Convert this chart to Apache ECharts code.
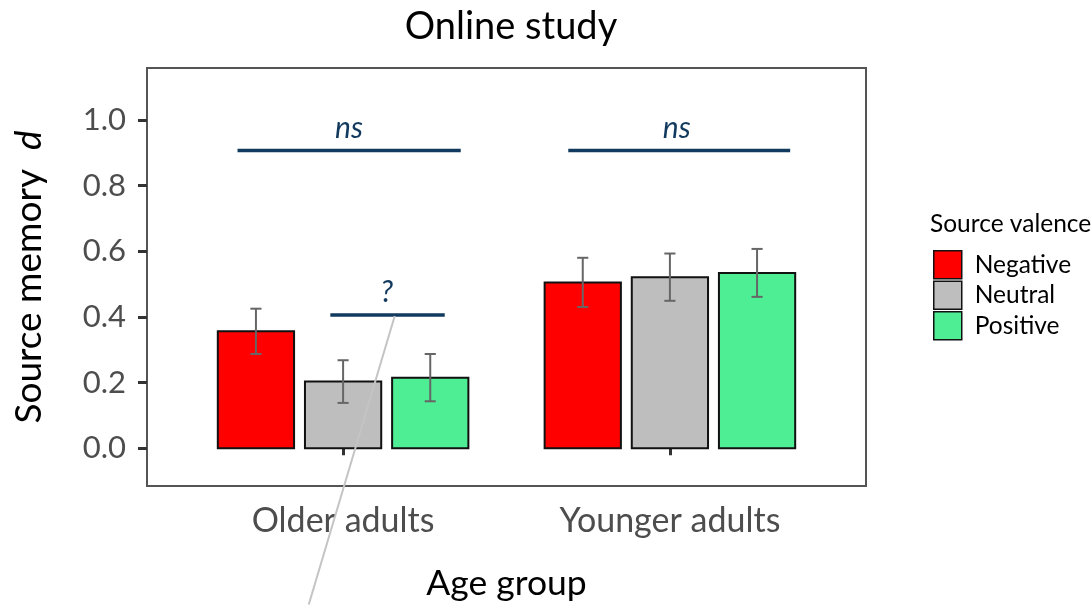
<!DOCTYPE html>
<html>
<head>
<meta charset="utf-8">
<title>Online study</title>
<script src="https://cdn.jsdelivr.net/npm/echarts@6/dist/echarts.min.js"></script>
<style>
  html, body { margin: 0; padding: 0; background: #ffffff; }
  #chart { width: 1092px; height: 605px; }
</style>
</head>
<body>
<div id="chart"></div>
<script>
// Age groups on the x axis (positions 1 and 2 on a continuous scale)
const ageGroups = ['Older adults', 'Younger adults'];
const groupPos = [1, 2];

// Source valence conditions
const valences = ['Negative', 'Neutral', 'Positive'];
const valenceColors = ['#FF0000', '#BEBEBE', '#4EEE94'];

// Mean source memory d per valence, one value per age group
const negativeMean = [0.356, 0.505];
const neutralMean  = [0.203, 0.521];
const positiveMean = [0.215, 0.534];

// Standard errors (half-length of the error bars)
const negativeSE = [0.069, 0.075];
const neutralSE  = [0.065, 0.072];
const positiveSE = [0.072, 0.073];

// y axis tick labels
const yTicks = [0, 0.2, 0.4, 0.6, 0.8, 1.0];

// Significance annotations: [x start, x end, y, label]
const sigBrackets = [
  [0.677, 1.360, 0.907, 'ns'],
  [1.689, 2.368, 0.907, 'ns'],
  [0.961, 1.311, 0.406, '?']
];
// Label anchor for each annotation: [x, y]
const sigLabels = [
  [1.018, 0.974],
  [2.021, 0.974],
  [1.134, 0.476]
];
// Stray grey pointer line: [x, y] start and end
const pointerLine = [[1.158, 0.403], [0.895, -0.476]];

const means = [negativeMean, neutralMean, positiveMean];
const ses = [negativeSE, neutralSE, positiveSE];

const dodge = 0.8 / 3;     // spacing between dodged bars (axis units)
const barW = 0.7 / 3;      // bar width (axis units)
const capW = 0.034;        // error bar cap width (axis units)

function barSeries(k) {
  return {
    name: valences[k],
    type: 'custom',
    itemStyle: { color: valenceColors[k], borderColor: '#111', borderWidth: 1.5 },
    data: groupPos.map((g, i) => [g + (k - 1) * dodge, means[k][i]]),
    encode: { x: 0, y: 1 },
    renderItem: function (params, api) {
      const x = api.value(0), v = api.value(1);
      const p0 = api.coord([x - barW / 2, 0]);
      const p1 = api.coord([x + barW / 2, v]);
      return {
        type: 'rect',
        shape: { x: p0[0], y: p1[1], width: p1[0] - p0[0], height: p0[1] - p1[1] },
        style: { fill: valenceColors[k], stroke: '#111', lineWidth: 2 }
      };
    },
    z: 2
  };
}

function errorSeries(k) {
  return {
    name: valences[k] + ' SE',
    type: 'custom',
    silent: true,
    data: groupPos.map((g, i) => [g + (k - 1) * dodge, means[k][i] - ses[k][i], means[k][i] + ses[k][i]]),
    encode: { x: 0, y: [1, 2] },
    renderItem: function (params, api) {
      const x = api.value(0), lo = api.value(1), hi = api.value(2);
      const top = api.coord([x, hi]), bot = api.coord([x, lo]);
      const l = api.coord([x - capW / 2, hi])[0], r = api.coord([x + capW / 2, hi])[0];
      const st = { stroke: '#666666', lineWidth: 2 };
      return {
        type: 'group',
        children: [
          { type: 'line', shape: { x1: top[0], y1: top[1], x2: bot[0], y2: bot[1] }, style: st },
          { type: 'line', shape: { x1: l, y1: top[1], x2: r, y2: top[1] }, style: st },
          { type: 'line', shape: { x1: l, y1: bot[1], x2: r, y2: bot[1] }, style: st }
        ]
      };
    },
    z: 3
  };
}

const chart = echarts.init(document.getElementById('chart'), null, { renderer: 'canvas' });

const option = {
  backgroundColor: '#ffffff',
  animation: false,
  textStyle: { fontFamily: 'Lato' },
  title: [
    {
      text: 'Online study',
      left: 506, top: 3, textAlign: 'center',
      textStyle: { fontFamily: 'Lato', fontSize: 38, fontWeight: 'normal', color: '#000' }
    },
    {
      text: 'Source valence',
      left: 925, top: 207,
      textStyle: { fontFamily: 'Lato', fontSize: 24.5, fontWeight: 'normal', color: '#000' }
    }
  ],
  legend: {
    data: valences,
    orient: 'vertical',
    left: 933, top: 250, padding: 0,
    itemWidth: 28, itemHeight: 28, itemGap: 1,
    icon: 'rect',
    itemStyle: { borderColor: '#111', borderWidth: 1.5 },
    textStyle: { fontFamily: 'Lato', fontSize: 24.5, color: '#000', padding: [0, 0, 0, 8] }
  },
  grid: {
    left: 147, right: 226, top: 68, bottom: 119,
    outerBoundsMode: 'none',
    show: true, borderColor: '#555', borderWidth: 2, backgroundColor: '#fff'
  },
  xAxis: {
    type: 'value', min: 0.4, max: 2.6,
    name: 'Age group', nameLocation: 'middle', nameGap: 80,
    nameTextStyle: { fontFamily: 'Lato', fontSize: 35.5, color: '#000' },
    axisLine: { show: false },
    splitLine: { show: false },
    axisTick: { show: true, customValues: groupPos, length: 7, lineStyle: { color: '#333', width: 3 } },
    axisLabel: {
      customValues: groupPos, margin: 18,
      fontFamily: 'Lato', fontSize: 34, color: '#4d4d4d',
      formatter: v => ageGroups[groupPos.indexOf(v)]
    }
  },
  yAxis: {
    type: 'value', min: -0.115, max: 1.158,
    name: '{a|Source memory  }{b|d}', nameLocation: 'middle', nameGap: 99, nameRotate: 90,
    nameTextStyle: {
      rich: {
        a: { fontFamily: 'Lato', fontSize: 37, color: '#000' },
        b: { fontFamily: 'Lato', fontSize: 37, fontStyle: 'italic', color: '#000' }
      }
    },
    axisLine: { show: false },
    splitLine: { show: false },
    axisTick: { show: true, customValues: yTicks, length: 9, lineStyle: { color: '#333', width: 3 } },
    axisLabel: {
      customValues: yTicks, margin: 21,
      fontFamily: 'Lato', fontSize: 31, color: '#4d4d4d',
      formatter: v => v.toFixed(1)
    }
  },
  series: [
    barSeries(0), barSeries(1), barSeries(2),
    errorSeries(0), errorSeries(1), errorSeries(2),
    {
      name: 'brackets',
      type: 'custom',
      silent: true,
      clip: false,
      data: sigBrackets.map((b, i) => [b[0], b[1], b[2], sigLabels[i][0], sigLabels[i][1], b[3]]),
      renderItem: function (params, api) {
        const a = api.coord([api.value(0), api.value(2)]);
        const b = api.coord([api.value(1), api.value(2)]);
        const t = api.coord([api.value(3), api.value(4)]);
        return {
          type: 'group',
          children: [
            { type: 'line', shape: { x1: a[0], y1: a[1], x2: b[0], y2: b[1] },
              style: { stroke: '#123A5E', lineWidth: 3.5 } },
            { type: 'text', x: t[0], y: t[1],
              style: { text: sigBrackets[params.dataIndex][3], fontFamily: 'Lato', fontStyle: 'italic',
                       fontSize: 30, fill: '#123A5E', align: 'center', verticalAlign: 'middle' } }
          ]
        };
      },
      z: 4
    },
    {
      name: 'pointer',
      type: 'custom',
      silent: true,
      clip: false,
      data: [[pointerLine[0][0], pointerLine[0][1], pointerLine[1][0], pointerLine[1][1]]],
      renderItem: function (params, api) {
        const a = api.coord([api.value(0), api.value(1)]);
        const b = api.coord([api.value(2), api.value(3)]);
        return { type: 'line', shape: { x1: a[0], y1: a[1], x2: b[0], y2: b[1] },
                 style: { stroke: '#C4C4C4', lineWidth: 2 } };
      },
      z: 10
    }
  ]
};

chart.setOption(option);
</script>
</body>
</html>
